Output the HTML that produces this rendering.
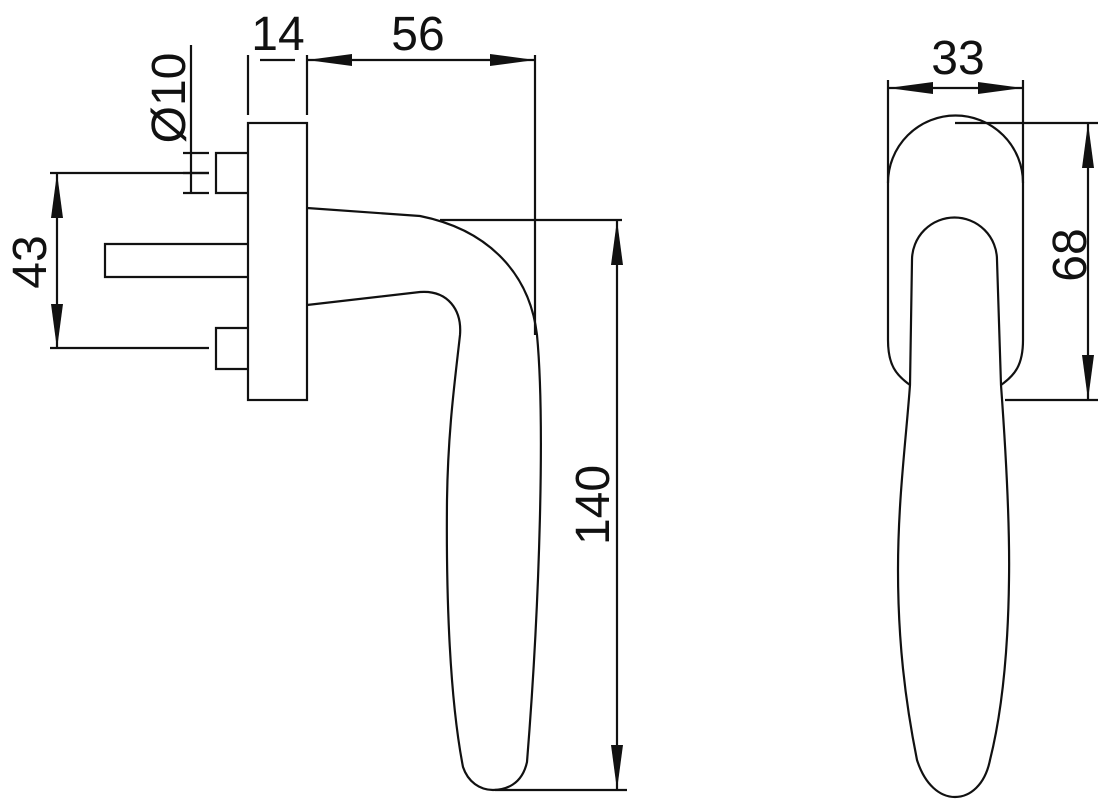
<!DOCTYPE html>
<html><head><meta charset="utf-8"><style>
html,body{margin:0;padding:0;background:#fff;width:1099px;height:800px;overflow:hidden}
svg text{font-family:"Liberation Sans",sans-serif;font-size:48px;fill:#111}
</style></head><body>
<svg width="1099" height="800" viewBox="0 0 1099 800" xmlns="http://www.w3.org/2000/svg">
<g fill="none" stroke="#111" stroke-width="2.2">
<!-- rose plate and pins -->
<rect x="248" y="123" width="59" height="277"/>
<path d="M248 153 H216 V193 H248"/>
<path d="M248 328 H216 V369 H248"/>
<path d="M248 244 H105 V277 H248"/>
<!-- dia 10 dim -->
<path d="M191 45 V193 M183 153 H209 M183 173 H209 M183 193 H209"/>
<path d="M50 173 H209 M50 348 H209"/>
<!-- 43 -->
<path d="M57 173 V349"/>
<!-- 14 -->
<path d="M248 55 V115 M307 55 V115 M260 60 H295"/>
<!-- 56 -->
<path d="M307 60 H535 M535 55 V335"/>
<!-- handle side view -->
<path d="M307 208 L420 216 C490 230 530 275 537 335 C545 420 540 600 527 762 C522 785 505 790 493 790 C480 790 468 782 463 767 C450 700 446 600 447 500 C448 430 455 380 460 335 C462 310 448 290 420 292 L307 305"/>
<path d="M440 220 H622"/>
<!-- 140 -->
<path d="M617 220 V790 M495 790 H627"/>
<!-- front view -->
<path d="M888 183 A67.5 67.5 0 0 1 1023 183 V340 C1023 365 1015 375 1001 385"/>
<path d="M888 183 V340 C888 365 896 375 910 385"/>
<path d="M912 260 A42.5 42.5 0 0 1 997 260 L1001 385 C1005 440 1010 520 1009 580 C1008 660 1000 720 990 760 C985 785 970 797 955 797 C940 797 925 785 917 760 C905 700 898 640 898 570 C898 500 906 440 910 385 L912 260"/>
<!-- 33 -->
<path d="M888 80 V183 M1023 80 V183 M888 88 H1023"/>
<!-- 68 -->
<path d="M955 123 H1098 M1005 400 H1098 M1088 123 V400"/>
</g>
<g fill="#111">
<!-- 56 arrows -->
<path d="M307 60 L352 54 L352 66Z"/><path d="M535 60 L490 54 L490 66Z"/>
<!-- 43 arrows -->
<path d="M57 173 L51 218 L63 218Z"/><path d="M57 349 L51 304 L63 304Z"/>
<!-- 140 arrows -->
<path d="M617 220 L611 265 L623 265Z"/><path d="M617 790 L611 745 L623 745Z"/>
<!-- 33 arrows -->
<path d="M888 88 L933 82 L933 94Z"/><path d="M1023 88 L978 82 L978 94Z"/>
<!-- 68 arrows -->
<path d="M1088 123 L1082 168 L1094 168Z"/><path d="M1088 400 L1082 355 L1094 355Z"/>
</g>
<text x="278" y="50" text-anchor="middle">14</text>
<text x="418" y="50" text-anchor="middle">56</text>
<text x="958" y="74" text-anchor="middle">33</text>
<text transform="translate(185,98) rotate(-90)" text-anchor="middle">Ø10</text>
<text transform="translate(46,262) rotate(-90)" text-anchor="middle">43</text>
<text transform="translate(609,505) rotate(-90)" text-anchor="middle">140</text>
<text transform="translate(1086,255) rotate(-90)" text-anchor="middle">68</text>
</svg>
</body></html>
